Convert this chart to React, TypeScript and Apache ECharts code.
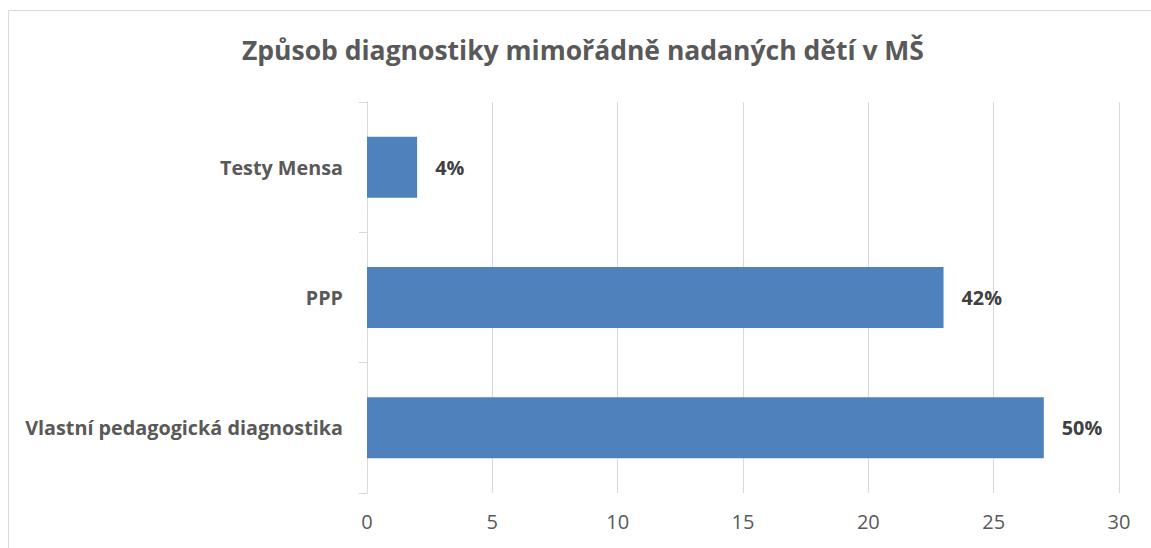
import React, { useEffect, useRef } from "react";
import * as echarts from "echarts";

const categories = ["Testy Mensa", "PPP", "Vlastní pedagogická diagnostika"];
const values = [2, 23, 27];
const percentLabels = ["4%", "42%", "50%"];
const xTicks = { min: 0, max: 30, interval: 5 };
const titleText = "Způsob diagnostiky mimořádně nadaných dětí v MŠ";

const FONT = "'Open Sans', sans-serif";

export default function App() {
  const ref = useRef<HTMLDivElement>(null);
  useEffect(() => {
    if (!ref.current) return;
    const chart = echarts.init(ref.current, undefined, { renderer: "svg" });
    chart.setOption({
      animation: false,
      backgroundColor: "#ffffff",
      textStyle: { fontFamily: FONT },
      title: {
        text: titleText,
        left: 242,
        top: 36,
        padding: 0,
        textStyle: { fontFamily: FONT, fontSize: 26.5, fontWeight: "bold", color: "#595959" },
      },
      graphic: [
        {
          type: "rect",
          shape: { x: 8.5, y: 10.5, width: 1200, height: 600 },
          style: { fill: "none", stroke: "#D9D9D9", lineWidth: 1 },
          silent: true,
          z: -10,
        },
      ],
      grid: { left: 367, right: 32, top: 102, bottom: 55, containLabel: false },
      xAxis: {
        type: "value",
        min: xTicks.min,
        max: xTicks.max,
        interval: xTicks.interval,
        axisLine: { show: false },
        axisTick: { show: false },
        splitLine: { show: true, lineStyle: { color: "#D9D9D9", width: 1 } },
        axisLabel: { color: "#595959", fontSize: 20, fontFamily: FONT, margin: 18 },
      },
      yAxis: {
        type: "category",
        data: categories,
        inverse: true,
        axisLine: { show: true, lineStyle: { color: "#D9D9D9", width: 1 } },
        axisTick: { show: true, length: 8, lineStyle: { color: "#D9D9D9" } },
        axisLabel: { color: "#595959", fontSize: 19.8, fontWeight: "bold", fontFamily: FONT, margin: 24 },
      },
      series: [
        {
          type: "bar",
          data: values,
          barWidth: 61,
          itemStyle: { color: "#4F81BD" },
          label: {
            show: true,
            position: "right",
            distance: 18,
            formatter: (p: any) => percentLabels[p.dataIndex],
            color: "#404040",
            fontSize: 19.8,
            fontWeight: "bold",
            fontFamily: FONT,
          },
        },
      ],
    });
    return () => chart.dispose();
  }, []);
  return (
    <div
      ref={ref}
      style={{ position: "absolute", left: 0, top: 0, width: 1151, height: 548 }}
    />
  );
}
